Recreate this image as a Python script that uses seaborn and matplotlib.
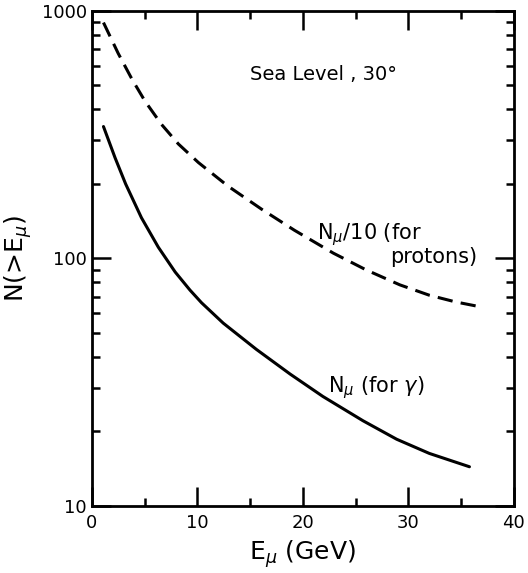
# -*- coding: utf-8 -*-
# muon number above threshold energy, sea level 30 deg

import matplotlib
matplotlib.use("Agg")
import matplotlib.pyplot as plt
import matplotlib.ticker as mticker
import pandas as pd
import seaborn as sns

# data (E_mu in GeV, N(>E_mu))
e_protons = [1.1, 2.5, 3.8, 5.05, 6.6, 8.2, 10.1, 12.9, 16.1, 19.2,
             22.9, 26.0, 29.2, 32.0, 34.5, 36.8]
n_protons = [897, 673, 530, 431, 348, 290, 244, 196, 158, 130,
             105, 89.9, 78.2, 71.0, 66.7, 63.8]

e_gamma = [1.1, 2.2, 3.2, 4.7, 6.3, 7.9, 9.3, 10.4, 12.45, 15.6, 18.8,
           21.9, 25.7, 28.9, 32.0, 35.8]
n_gamma = [341, 255, 200, 146, 111, 88.1, 74.5, 66.2, 54.8, 42.9, 34.1,
           27.7, 22.1, 18.6, 16.3, 14.4]

x_ticks = [0, 10, 20, 30, 40]
y_ticks = [10, 100, 1000]

sns.set_style("ticks")
plt.rcParams["font.family"] = ["DejaVu Sans"]
plt.rcParams["mathtext.fontset"] = "dejavusans"
plt.rcParams["axes.linewidth"] = 2.0
plt.rcParams["text.color"] = "black"
plt.rcParams["axes.labelcolor"] = "black"
plt.rcParams["xtick.color"] = "black"
plt.rcParams["ytick.color"] = "black"

df_p = pd.DataFrame({"E": e_protons, "N": n_protons})
df_g = pd.DataFrame({"E": e_gamma, "N": n_gamma})

fig = plt.figure(figsize = (5.28, 5.73), dpi = 100, facecolor = "w")
ax = fig.add_axes([0.174, 0.117, 0.799, 0.864])

sns.lineplot(data = df_p, x = "E", y = "N", color = "black", linewidth = 2.2,
             linestyle = (0, (5, 2.7)), ax = ax)
sns.lineplot(data = df_g, x = "E", y = "N", color = "black", linewidth = 2.2, ax = ax)

ax.set_yscale("log")
ax.set_xlim(0, 40)
ax.set_ylim(10, 1000)
ax.set_xticks(x_ticks)
ax.xaxis.set_minor_locator(mticker.MultipleLocator(5))
ax.set_yticks(y_ticks)
ax.set_yticklabels([str(v) for v in y_ticks])
ax.yaxis.set_minor_locator(mticker.LogLocator(base = 10, subs = range(2, 10)))
ax.yaxis.set_minor_formatter(mticker.NullFormatter())

ax.tick_params(which = "both", direction = "in", top = True, right = True, width = 1.8)
ax.tick_params(which = "major", length = 14, labelsize = 13)
ax.tick_params(axis = "x", which = "major", pad = 6)
ax.tick_params(which = "minor", length = 6)
for s in ax.spines.values():
    s.set_visible(True)
    s.set_color("black")

ax.set_xlabel(r"$\mathrm{E}_\mu$ (GeV)", fontsize = 18, labelpad = 4)
ax.set_ylabel(r"N(>$\mathrm{E}_\mu$)", fontsize = 18, labelpad = 6)

# 曲线标注
ax.text(15.0, 552, "Sea Level , 30°", fontsize = 14, ha = "left", va = "center")
ax.text(21.3, 125, r"$\mathrm{N}_\mu$/10 (for", fontsize = 15, ha = "left", va = "center")
ax.text(28.3, 101, "protons)", fontsize = 15, ha = "left", va = "center")
ax.text(22.4, 30.2, r"$\mathrm{N}_\mu$ (for $\gamma$)", fontsize = 15, ha = "left", va = "center")

fig.savefig("out.png", dpi = 100, facecolor = "w")
